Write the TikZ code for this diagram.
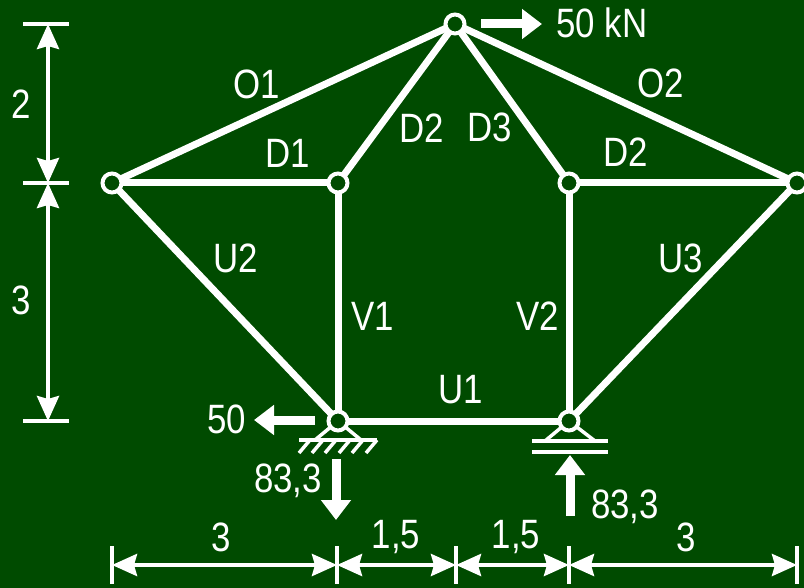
\documentclass[tikz,border=0pt]{standalone}
\usepackage{fontspec}
\setmainfont[FakeStretch=0.85]{Liberation Sans}
\usepackage{xcolor}
\usetikzlibrary{arrows.meta}
\definecolor{boardgreen}{HTML}{004B00}

\begin{document}
\begin{tikzpicture}[x=1pt,y=-1pt,white]
\tikzset{
    joint/.style={%
        circle,
        draw=white,
        fill=boardgreen,
        line width=4pt,
        minimum size=19pt,
        inner sep=0pt,
        outer sep=0pt
        },
    bar/.style={draw=white, line width=7pt},
    dimline/.style={%
        draw=white, line width=4pt,
        {Stealth[length=25pt,width=22pt,inset=3pt]}-{Stealth[length=25pt,width=22pt,inset=3pt]}
        },
    tick/.style={draw=white, line width=4pt},
    force/.style={%
        draw=white, line width=9pt,
        -{Triangle[length=20pt,width=29pt]}
        },
    bearing/.style={draw=white, line width=3.5pt},
    lbl/.style={font=\fontsize{41}{41}\selectfont, text=white, inner sep=0pt},
}
\fill[boardgreen] (0,0) rectangle (804,588);
\useasboundingbox (0,0) rectangle (804,588);
%%%JOINTS
\node[joint] (apex) at (455,24) {};
\node[joint] (farleft) at (112,183) {};
\node[joint] (midleft) at (338,183) {};
\node[joint] (midright) at (569,183) {};
\node[joint] (farright) at (797,183) {};
\node[joint] (lowleft) at (338,421) {};
\node[joint] (lowright) at (569,421) {};
%%%BARS
\draw[bar] (farleft) -- (apex);
\draw[bar] (apex) -- (farright);
\draw[bar] (farleft) -- (midleft);
\draw[bar] (midleft) -- (apex);
\draw[bar] (apex) -- (midright);
\draw[bar] (midright) -- (farright);
\draw[bar] (farleft) -- (lowleft);
\draw[bar] (midleft) -- (lowleft);
\draw[bar] (midright) -- (lowright);
\draw[bar] (lowleft) -- (lowright);
\draw[bar] (lowright) -- (farright);
%%%SUPPORTS
\coordinate (baseLa) at (299,440);
\coordinate (baseLb) at (377,440);
\coordinate (baseRa) at (532,441);
\coordinate (baseRb) at (608,441);
\coordinate (railRa) at (532,452);
\coordinate (railRb) at (608,452);
\draw[bearing] (lowleft) -- (315,440);
\draw[bearing] (lowleft) -- (361,440);
\draw[bearing] (baseLa) -- (baseLb);
\foreach \hx in {299,312,325,339,352,366}
    \draw[bearing] (\hx,453) -- (\hx+11,440);
\draw[bearing] (lowright) -- (545,441);
\draw[bearing] (lowright) -- (595,441);
\draw[bearing] (baseRa) -- (baseRb);
\draw[bearing] (railRa) -- (railRb);
%%%FORCES
\draw[force] (481,24) -- (542,24);
\draw[force] (315,420) -- (254,420);
\draw[force] (336,459) -- (336,520);
\draw[force] (570,516) -- (570,455);
%%%DIMENSIONS
\foreach \ty/\tn in {24/a,183/b,421/c}{
    \coordinate (v\tn) at (48,\ty);
    \draw[tick] (23,\ty) -- (69,\ty);
}
\draw[dimline] (va) -- (vb);
\draw[dimline] (vb) -- (vc);
\foreach \tx/\tn in {112/a,337/b,456/c,569/d,797/e}{
    \coordinate (h\tn) at (\tx,565);
    \draw[tick] (\tx,546) -- (\tx,584);
}
\draw[dimline] (ha) -- (hb);
\draw[dimline] (hb) -- (hc);
\draw[dimline] (hc) -- (hd);
\draw[dimline] (hd) -- (he);
%%%LABELS
\node[lbl] (o1) at (257,84) {O1};
\node[lbl] (o2) at (661,83) {O2};
\node[lbl] (d1) at (288,153) {D1};
\node[lbl] (d2) at (422,128) {D2};
\node[lbl] (d3) at (490,127) {D3};
\node[lbl] (d4) at (626,152) {D2};
\node[lbl] (u1) at (461,390) {U1};
\node[lbl] (u2) at (236,258) {U2};
\node[lbl] (u3) at (681,258) {U3};
\node[lbl] (v1) at (373,316) {V1};
\node[lbl] (v2) at (538,316) {V2};
\node[lbl] (ftop) at (602,23) {50 kN};
\node[lbl] (fleft) at (227,419) {50};
\node[lbl] (rleft) at (288,481) {83,3};
\node[lbl] (rright) at (625,507) {83,3};
\node[lbl] (dimv1) at (21,104) {2};
\node[lbl] (dimv2) at (21,300) {3};
\node[lbl] (dimh1) at (221,537) {3};
\node[lbl] (dimh2) at (396,537) {1,5};
\node[lbl] (dimh3) at (516,537) {1,5};
\node[lbl] (dimh4) at (686,537) {3};
\end{tikzpicture}
\end{document}
